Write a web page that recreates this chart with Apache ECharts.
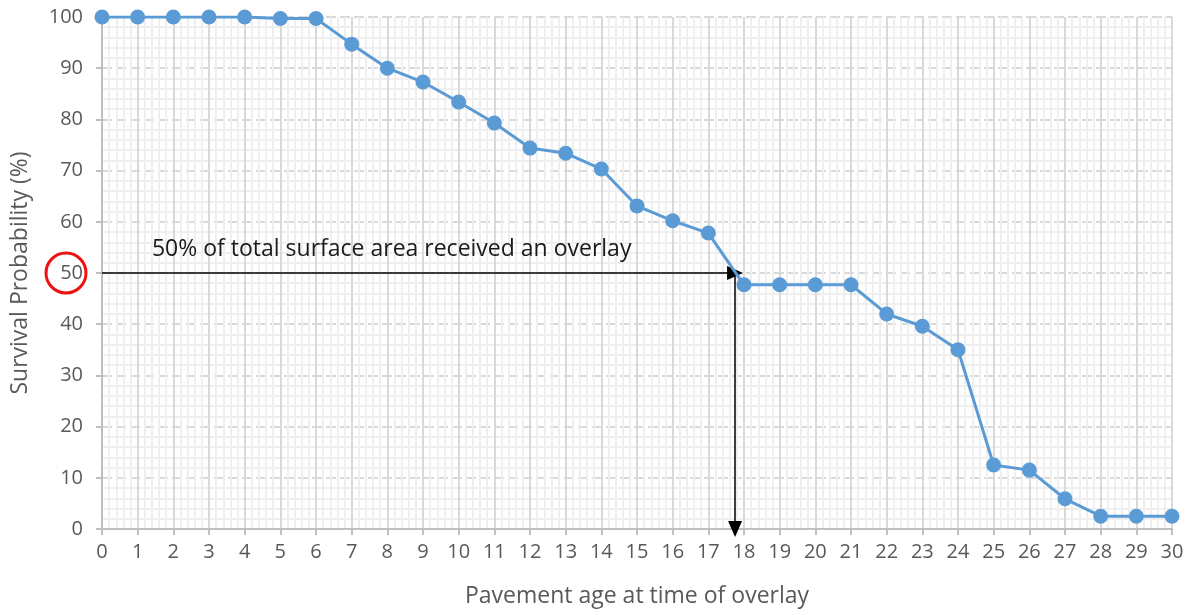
<!DOCTYPE html>
<html>
<head>
<meta charset="utf-8">
<script src="https://cdn.jsdelivr.net/npm/echarts@6/dist/echarts.min.js"></script>
<style>
  html, body { margin: 0; padding: 0; background: #fff; }
  #chart { width: 1193px; height: 615px; }
</style>
</head>
<body>
<div id="chart"></div>
<script>
// Pavement age (years) and share of surface area still without an overlay
const ages = [0, 1, 2, 3, 4, 5, 6, 7, 8, 9, 10, 11, 12, 13, 14, 15, 16, 17, 18, 19, 20, 21, 22, 23, 24, 25, 26, 27, 28, 29, 30];
const survival = [100, 100, 100, 100, 100, 99.7, 99.7, 94.7, 90.0, 87.3, 83.4, 79.3, 74.4, 73.4, 70.3, 63.1, 60.2, 57.8, 47.7, 47.7, 47.7, 47.7, 42.0, 39.6, 35.0, 12.5, 11.5, 5.9, 2.5, 2.5, 2.5];

// Median age: where survival crosses 50 %
const medianLevel = 50;
const medianAge = 17.75;
const noteText = '50% of total surface area received an overlay';

const FONT = '"Open Sans", "Noto Sans", sans-serif';
const chart = echarts.init(document.getElementById('chart'));

const points = ages.map((a, i) => [a, survival[i]]);

chart.setOption({
  animation: false,
  backgroundColor: '#ffffff',
  grid: { left: 102, right: 21, top: 17, bottom: 86, containLabel: false, outerBoundsMode: 'none' },
  xAxis: {
    type: 'value',
    min: 0, max: 30, interval: 1,
    name: 'Pavement age at time of overlay',
    nameLocation: 'middle',
    nameGap: 56,
    nameTextStyle: { color: '#595959', fontSize: 23, fontFamily: FONT },
    axisLine: { show: true, lineStyle: { color: '#bfbfbf', width: 2 } },
    axisTick: { show: true, length: 6, lineStyle: { color: '#bfbfbf', width: 2 } },
    axisLabel: { color: '#595959', fontSize: 20, fontFamily: FONT, margin: 13 },
    splitLine: { show: true, lineStyle: { color: '#d9d9d9', width: 2 } },
    minorTick: { show: false, splitNumber: 5 },
    minorSplitLine: { show: true, lineStyle: { color: '#efefef', width: 2 } }
  },
  yAxis: {
    type: 'value',
    min: 0, max: 100, interval: 10,
    name: 'Survival Probability (%)',
    nameLocation: 'middle',
    nameGap: 70,
    nameTextStyle: { color: '#595959', fontSize: 23, fontFamily: FONT },
    axisLine: { show: true, lineStyle: { color: '#bfbfbf', width: 2 } },
    axisTick: { show: true, length: 6, lineStyle: { color: '#bfbfbf', width: 2 } },
    axisLabel: { color: '#595959', fontSize: 20, fontFamily: FONT, margin: 19 },
    splitLine: { show: true, lineStyle: { color: '#d9d9d9', width: 2, type: [10, 4] } },
    minorTick: { show: false, splitNumber: 5 },
    minorSplitLine: { show: true, lineStyle: { color: '#efefef', width: 2 } }
  },
  series: [
    {
      // median annotation: arrows and caption
      type: 'line',
      data: [],
      silent: true,
      z: 3,
      markLine: {
        silent: true,
        symbol: ['none', 'triangle'],
        symbolSize: [14, 16],
        lineStyle: { color: '#000000', width: 1.5, type: 'solid' },
        label: { show: false },
        data: [
          [{ coord: [0, medianLevel], symbol: 'none' }, { coord: [medianAge, medianLevel], symbol: 'triangle', symbolRotate: -90 }],
          [{ coord: [medianAge, medianLevel], symbol: 'none' }, { coord: [medianAge, 0], symbol: 'triangle', symbolRotate: 180 }]
        ]
      },
      markPoint: {
        silent: true,
        symbol: 'circle',
        symbolSize: 0,
        label: {
          show: true,
          position: 'right',
          distance: 0,
          formatter: noteText,
          color: '#1a1a1a',
          fontSize: 23,
          fontFamily: FONT
        },
        data: [{ coord: [1.4, 54.6] }]
      }
    },
    {
      type: 'line',
      data: points,
      z: 5,
      symbol: 'circle',
      symbolSize: 15,
      showSymbol: true,
      lineStyle: { color: '#5b9bd5', width: 3 },
      itemStyle: { color: '#5b9bd5' }
    }
  ]
});

// Red ring highlighting the 50 % tick label
const p = chart.convertToPixel({ gridIndex: 0 }, [0, medianLevel]);
chart.setOption({
  graphic: [{
    type: 'circle',
    shape: { cx: p[0] - 36, cy: p[1], r: 20 },
    style: { fill: 'none', stroke: '#ee1111', lineWidth: 3 },
    z: 10
  }]
});
</script>
</body>
</html>
